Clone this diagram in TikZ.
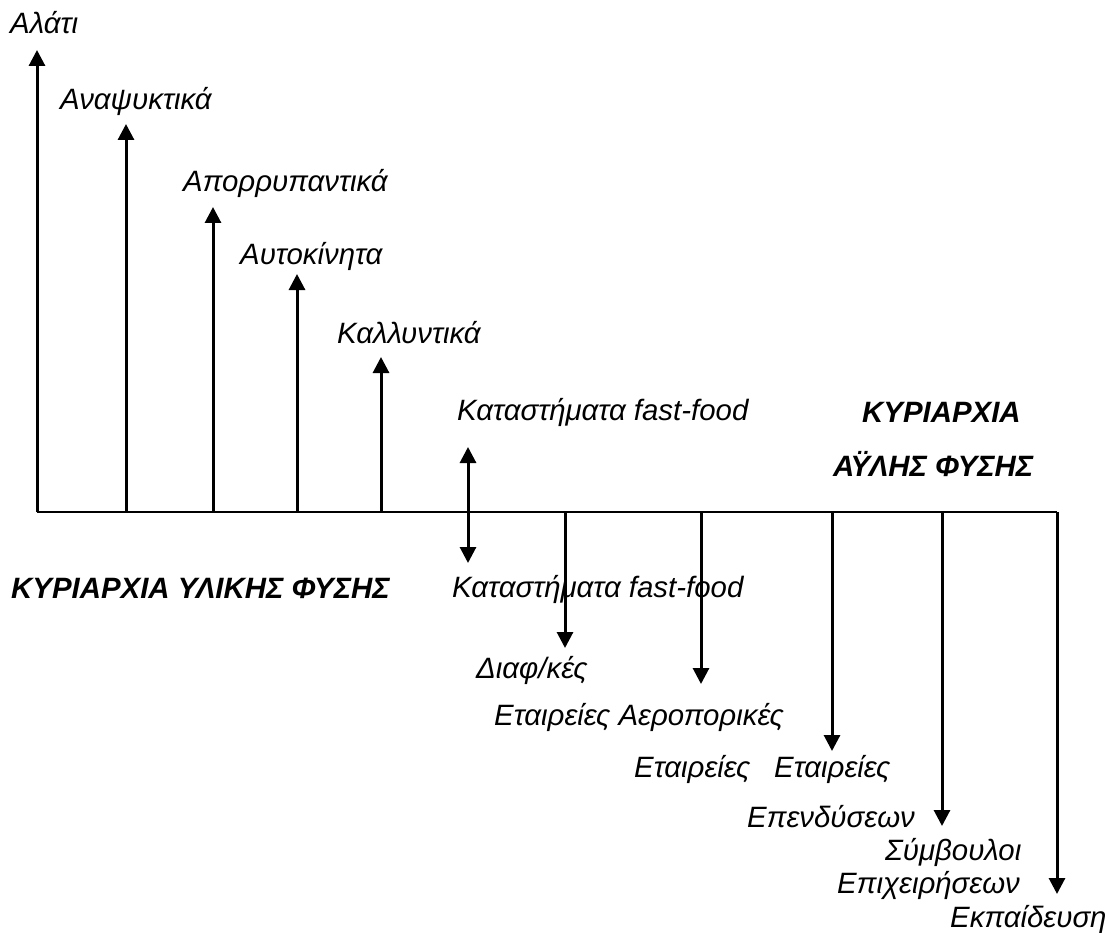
\documentclass[tikz,border=0pt]{standalone}
\usepackage{fontspec}
\setmainfont{Liberation Sans}
\usetikzlibrary{arrows.meta}
\begin{document}
\begin{tikzpicture}[x=1pt,y=-1pt,
  lbl/.style={anchor=base west,inner sep=0pt,font=\fontsize{29.4}{35}\selectfont\itshape},
  blbl/.style={lbl,font=\fontsize{29.4}{35}\selectfont\bfseries\itshape},
  arr/.style={line width=3pt,-{Triangle[length=16pt,width=16pt]}},
  darr/.style={line width=3pt,{Triangle[length=16pt,width=16pt]}-{Triangle[length=16pt,width=16pt]}},
  axis/.style={line width=2.6pt}]
\useasboundingbox (0,0) rectangle (1110,933);
% base points on the axis
\coordinate (b1) at (37,512);
\coordinate (b2) at (126,512);
\coordinate (b3) at (213,512);
\coordinate (b4) at (297,512);
\coordinate (b5) at (381,512);
\coordinate (b7) at (565,512);
\coordinate (b8) at (701,512);
\coordinate (b9) at (832,512);
\coordinate (b10) at (942,512);
\coordinate (b11) at (1057,512);
% arrow tips
\coordinate (t1) at (37,50);
\coordinate (t2) at (126,124);
\coordinate (t3) at (213,207);
\coordinate (t4) at (297,274);
\coordinate (t5) at (381,357);
\coordinate (d6a) at (468,447);
\coordinate (d6b) at (468,563);
\coordinate (t7) at (565,648);
\coordinate (t8) at (701,684);
\coordinate (t9) at (832,751);
\coordinate (t10) at (942,826);
\coordinate (t11) at (1057,894);
% axis
\draw[axis] (b1) -- (b11);
% arrows
\draw[arr] (b1) -- (t1);
\draw[arr] (b2) -- (t2);
\draw[arr] (b3) -- (t3);
\draw[arr] (b4) -- (t4);
\draw[arr] (b5) -- (t5);
\draw[darr] (d6a) -- (d6b);
\draw[arr] (b7) -- (t7);
\draw[arr] (b8) -- (t8);
\draw[arr] (b9) -- (t9);
\draw[arr] (b10) -- (t10);
\draw[arr] (b11) -- (t11);
% labels
\node[lbl] (l1) at (10,34) {Αλάτι};
\node[lbl] (l2) at (60,110) {Αναψυκτικά};
\node[lbl] (l3) at (183,192) {Απορρυπαντικά};
\node[lbl] (l4) at (240,265) {Αυτοκίνητα};
\node[lbl] (l5) at (337,343) {Καλλυντικά};
\node[lbl] (l6a) at (457,420) {Καταστήματα fast-food};
\node[blbl] (k1) at (862,422) {ΚΥΡΙΑΡΧΙΑ};
\node[blbl] (k2) at (833,476) {ΑΫΛΗΣ ΦΥΣΗΣ};
\node[blbl] (k3) at (11,598) {ΚΥΡΙΑΡΧΙΑ ΥΛΙΚΗΣ ΦΥΣΗΣ};
\node[lbl] (l6b) at (452,597) {Καταστήματα fast-food};
\node[lbl] (l7) at (476,678) {Διαφ/κές};
\node[lbl] (l8) at (494,725) {Εταιρείες Αεροπορικές};
\node[lbl] (l9) at (634,777) {Εταιρείες};
\node[lbl] (l10) at (774,777) {Εταιρείες};
\node[lbl] (l11) at (747,827) {Επενδύσεων};
\node[lbl] (l12) at (885,860) {Σύμβουλοι};
\node[lbl] (l13) at (837,893) {Επιχειρήσεων};
\node[lbl] (l14) at (950,927) {Εκπαίδευση};
\end{tikzpicture}
\end{document}
